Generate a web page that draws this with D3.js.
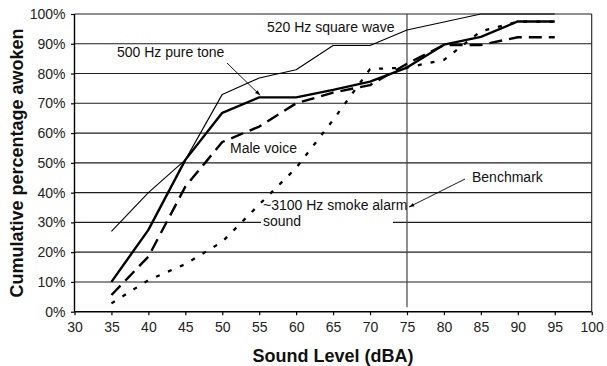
<!DOCTYPE html>
<html>
<head>
<meta charset="utf-8">
<script src="https://cdn.jsdelivr.net/npm/d3@7"></script>
<style>
  html, body { margin: 0; padding: 0; background: #fff; }
  svg { display: block; font-family: "Liberation Sans", Arial, Helvetica, sans-serif; }
</style>
</head>
<body>
<svg id="chart" width="607" height="366"></svg>
<script>
// ---- Data ----
const levels = [35, 40, 45, 50, 55, 60, 65, 70, 75, 80, 85, 90, 95];
const squareWave520 = [27, 40, 51, 73, 78.5, 81.3, 89.4, 89.4, 94.6, 97.3, 100, 100, 100];
const pureTone500   = [10, 27.5, 51, 66.8, 72, 72, 74.5, 77.3, 82, 89.7, 92.3, 97.5, 97.5];
const maleVoice     = [5.6, 18.5, 42, 57, 62.2, 70, 73.6, 76.1, 83.3, 89.6, 89.6, 92.2, 92.2];
const smokeAlarm    = [2.8, 10.6, 16, 23.5, 36, 48.3, 64.4, 81.5, 82, 84.6, 94.2, 97.4, 97.4];
const xTicks = [30, 35, 40, 45, 50, 55, 60, 65, 70, 75, 80, 85, 90, 95, 100];
const yTicks = [0, 10, 20, 30, 40, 50, 60, 70, 80, 90, 100];
const benchmarkLevel = 75;
const xTitle = "Sound Level (dBA)";
const yTitle = "Cumulative percentage awoken";

const svg = d3.select("#chart");
const x = d3.scaleLinear().domain([30, 100]).range([74.5, 591.7]);
const y = d3.scaleLinear().domain([0, 100]).range([311.7, 14]);

// marker
svg.append("defs").append("marker")
  .attr("id", "arrow").attr("viewBox", "0 0 10 10")
  .attr("refX", 10).attr("refY", 5)
  .attr("markerWidth", 6).attr("markerHeight", 6)
  .attr("orient", "auto-start-reverse")
  .append("path").attr("d", "M0,1.5 L10,5 L0,8.5 Z").attr("fill", "#000");

// gridlines
svg.append("g").selectAll("line").data(yTicks.filter(d => d > 0)).join("line")
  .attr("x1", x(30)).attr("x2", x(100))
  .attr("y1", d => y(d)).attr("y2", d => y(d))
  .attr("stroke", "#1e1e1e").attr("stroke-width", 1.1);

// right border
svg.append("line").attr("x1", x(100)).attr("x2", x(100)).attr("y1", y(100)).attr("y2", y(0))
  .attr("stroke", "#1e1e1e").attr("stroke-width", 1.1);

// white label box behind smoke alarm text
svg.append("rect").attr("x", 261).attr("y", 213).attr("width", 132).attr("height", 17).attr("fill", "#fff");

// benchmark line
svg.append("line").attr("x1", x(benchmarkLevel)).attr("x2", x(benchmarkLevel))
  .attr("y1", y(100)).attr("y2", y(1.5))
  .attr("stroke", "#444").attr("stroke-width", 1.2);

// axes
const xAxis = svg.append("g").attr("transform", `translate(0,${y(0)})`)
  .call(d3.axisBottom(x).tickValues(xTicks).tickSize(3.5).tickPadding(7).tickFormat(d3.format("d")));
const yAxis = svg.append("g").attr("transform", `translate(${x(30)},0)`)
  .call(d3.axisLeft(y).tickValues(yTicks).tickSize(3.5).tickPadding(5.5).tickFormat(d => d + "%"));
[xAxis, yAxis].forEach(g => {
  g.select(".domain").attr("stroke", "#000").attr("stroke-width", 1.4);
  g.selectAll(".tick line").attr("stroke", "#000").attr("stroke-width", 1.2);
  g.selectAll(".tick text").attr("fill", "#222").style("font-size", "14px")
    .style("font-family", '"Liberation Sans", Arial, sans-serif');
});
xAxis.select(".domain").attr("d", `M${x(30)},0H${x(100)}`);
yAxis.select(".domain").attr("d", `M0,${y(0)}V${y(100)}`);

// series
const line = d3.line().x((d, i) => x(levels[i])).y(d => y(d));
const series = [
  { vals: smokeAlarm, w: 2.3, dash: "4,9" },
  { vals: maleVoice, w: 2.4, dash: "13,7" },
  { vals: squareWave520, w: 1.1, dash: null },
  { vals: pureTone500, w: 2.4, dash: null }
];
series.forEach(s => {
  svg.append("path").datum(s.vals).attr("d", line)
    .attr("fill", "none").attr("stroke", "#000")
    .attr("stroke-width", s.w)
    .attr("stroke-dasharray", s.dash)
    .attr("stroke-linejoin", "round");
});

// annotations
const ann = svg.append("g").style("font-size", "14px").attr("fill", "#111");
ann.append("text").attr("x", 267).attr("y", 32).text("520 Hz square wave");
ann.append("text").attr("x", 117).attr("y", 57).text("500 Hz pure tone");
ann.append("text").attr("x", 230).attr("y", 153).text("Male voice");
const smokeLabel = ann.append("text").attr("x", 263).attr("y", 210);
smokeLabel.append("tspan").attr("x", 263).attr("dy", 0).text("~3100 Hz smoke alarm");
smokeLabel.append("tspan").attr("x", 263).attr("dy", 16).text("sound");
ann.append("text").attr("x", 472).attr("y", 182).text("Benchmark");

svg.append("line").attr("x1", 227).attr("y1", 63).attr("x2", x(55) + 1).attr("y2", y(72) - 2)
  .attr("stroke", "#000").attr("stroke-width", 0.9).attr("marker-end", "url(#arrow)");
svg.append("line").attr("x1", 465).attr("y1", 179).attr("x2", x(benchmarkLevel) + 2).attr("y2", 207)
  .attr("stroke", "#000").attr("stroke-width", 0.9).attr("marker-end", "url(#arrow)");

// titles
svg.append("text").attr("x", (x(30) + x(100)) / 2).attr("y", 361.5)
  .attr("text-anchor", "middle").style("font-size", "18px").style("font-weight", "bold")
  .attr("fill", "#111").text(xTitle);
svg.append("text").attr("transform", `translate(23,163) rotate(-90)`)
  .attr("text-anchor", "middle").style("font-size", "18px").style("font-weight", "bold")
  .attr("fill", "#111").text(yTitle);
</script>
</body>
</html>
